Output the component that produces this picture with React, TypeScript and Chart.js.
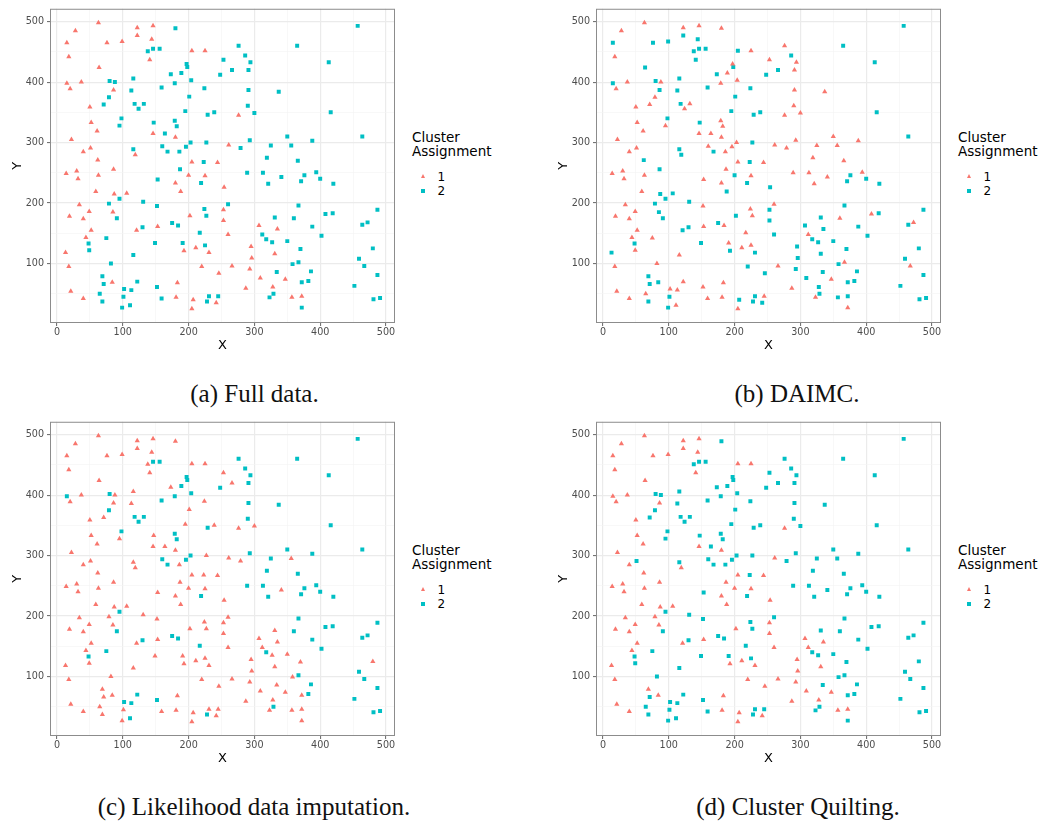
import React, { useEffect, useRef } from "react";
import { Chart, registerables } from "chart.js";

Chart.register(...registerables);

// ---- data (same 227 observations in every panel) ----
const pointX = [
  15, 28, 63, 18, 76, 99, 122, 146, 122, 144,
  141, 64, 15, 37, 20, 86, 50, 52, 61, 22,
  51, 40, 62, 86, 119, 146, 180, 205, 225, 261,
  205, 244, 14, 30, 63, 200, 225, 276, 32, 59,
  87, 106, 34, 19, 49, 40, 85, 52, 44, 13,
  18, 21, 40, 84, 121, 153, 180, 188, 202, 193,
  211, 231, 220, 246, 183, 181, 207, 205, 242, 254,
  253, 253, 260, 307, 335, 295, 296, 331, 266, 293,
  309, 347, 287, 328, 357, 372,
  180, 138, 146, 156, 197, 198, 173, 189, 179, 204,
  248, 253, 159, 224, 201, 80, 88, 116, 79, 71,
  113, 118, 124, 132, 98, 95, 147, 195, 179, 182,
  239, 229, 164, 196, 203, 227, 160, 168, 186, 116,
  223, 187, 457, 276, 365, 286, 294, 266, 291, 413,
  291, 337, 290, 300, 416, 350, 388, 464, 293, 325,
  356, 279, 319, 366, 289, 313, 341, 376, 371, 394,
  400, 420, 321, 260, 367, 331, 360, 408, 419, 487,
  388, 472, 464, 312, 318, 327, 350, 402, 370, 480,
  459, 467, 358, 367, 386, 334, 487, 372, 382, 452,
  329, 323, 245, 372, 481, 491, 79, 95, 131, 152,
  91, 153, 75, 48, 49, 130, 175, 184, 191, 217,
  224, 227, 219, 225, 116, 82, 69, 71, 65, 69,
  102, 113, 122, 101, 99, 111, 152, 159, 228, 231,
  149,
];

const pointY = [
  465, 485, 498, 442, 465, 467, 490, 493, 477, 471,
  437, 424, 398, 400, 389, 387, 359, 333, 319, 305,
  291, 285, 271, 256, 280, 315, 309, 452, 452, 296,
  268, 267, 249, 253, 246, 246, 245, 345, 240, 219,
  215, 216, 197, 178, 186, 174, 185, 155, 143, 118,
  95, 54, 42, 69, 155, 161, 233, 219, 179, 121,
  126, 118, 95, 84, 68, 44, 40, 25, 35, 226,
  189, 171, 148, 163, 157, 128, 109, 116, 96, 91,
  76, 74, 59, 61, 44, 46,
  489, 451, 455, 455, 430, 425, 413, 415, 398, 403,
  412, 437, 391, 390, 376, 402, 400, 406, 375, 363,
  386, 364, 356, 364, 340, 328, 333, 352, 336, 327,
  350, 346, 315, 293, 300, 300, 294, 285, 285, 289,
  268, 256, 493, 460, 460, 444, 433, 420, 420, 433,
  387, 384, 361, 349, 350, 310, 303, 310, 304, 295,
  295, 291, 275, 270, 250, 250, 243, 246, 236, 251,
  240, 232, 232, 198, 196, 176, 175, 182, 183, 189,
  161, 168, 164, 148, 140, 135, 137, 146, 124, 125,
  108, 96, 99, 102, 87, 86, 81, 69, 71, 63,
  50, 44, 46, 27, 41, 43, 199, 207, 202, 195,
  175, 239, 142, 133, 122, 160, 167, 163, 134, 151,
  190, 179, 233, 130, 114, 100, 79, 66, 50, 37,
  58, 56, 70, 45, 27, 31, 61, 42, 37, 46,
  134,
];

// cluster assignments per panel
const fullData = [
  1, 1, 1, 1, 1, 1, 1, 1, 1, 1,
  1, 1, 1, 1, 1, 1, 1, 1, 1, 1,
  1, 1, 1, 1, 1, 1, 1, 1, 1, 1,
  1, 1, 1, 1, 1, 1, 1, 1, 1, 1,
  1, 1, 1, 1, 1, 1, 1, 1, 1, 1,
  1, 1, 1, 1, 1, 1, 1, 1, 1, 1,
  1, 1, 1, 1, 1, 1, 1, 1, 1, 1,
  1, 1, 1, 1, 1, 1, 1, 1, 1, 1,
  1, 1, 1, 1, 1, 1,
  2, 2, 2, 2, 2, 2, 2, 2, 2, 2,
  2, 2, 2, 2, 2, 2, 2, 2, 2, 2,
  2, 2, 2, 2, 2, 2, 2, 2, 2, 2,
  2, 2, 2, 2, 2, 2, 2, 2, 2, 2,
  2, 2, 2, 2, 2, 2, 2, 2, 2, 2,
  2, 2, 2, 2, 2, 2, 2, 2, 2, 2,
  2, 2, 2, 2, 2, 2, 2, 2, 2, 2,
  2, 2, 2, 2, 2, 2, 2, 2, 2, 2,
  2, 2, 2, 2, 2, 2, 2, 2, 2, 2,
  2, 2, 2, 2, 2, 2, 2, 2, 2, 2,
  2, 2, 2, 2, 2, 2, 2, 2, 2, 2,
  2, 2, 2, 2, 2, 2, 2, 2, 2, 2,
  2, 2, 2, 2, 2, 2, 2, 2, 2, 2,
  2, 2, 2, 2, 2, 2, 2, 2, 2, 2,
  2,
];

const daimc = [
  2, 1, 1, 1, 2, 2, 1, 1, 2, 2,
  2, 2, 2, 1, 1, 2, 1, 1, 1, 1,
  1, 1, 2, 2, 2, 1, 1, 2, 1, 1,
  1, 1, 1, 1, 1, 2, 1, 1, 1, 1,
  2, 2, 1, 1, 1, 1, 2, 1, 1, 2,
  1, 1, 1, 2, 2, 1, 1, 2, 2, 2,
  1, 2, 2, 2, 1, 1, 2, 1, 2, 2,
  2, 2, 2, 2, 2, 2, 2, 2, 1, 2,
  2, 1, 1, 2, 2, 2,
  1, 2, 2, 2, 1, 2, 2, 1, 1, 1,
  2, 1, 2, 2, 2, 2, 1, 2, 1, 1,
  2, 2, 1, 1, 2, 1, 2, 2, 1, 1,
  2, 2, 1, 1, 1, 2, 1, 2, 1, 2,
  2, 1, 2, 1, 2, 2, 1, 2, 1, 2,
  1, 1, 1, 1, 2, 1, 1, 2, 1, 1,
  1, 1, 1, 1, 1, 1, 1, 2, 2, 1,
  2, 2, 1, 1, 2, 2, 1, 1, 2, 2,
  2, 1, 2, 1, 2, 2, 2, 2, 2, 2,
  2, 1, 2, 1, 2, 2, 2, 2, 2, 2,
  2, 1, 1, 1, 2, 2, 2, 2, 2, 1,
  2, 1, 1, 2, 1, 2, 2, 1, 1, 1,
  1, 1, 2, 1, 1, 1, 2, 2, 1, 2,
  1, 1, 1, 2, 2, 1, 1, 1, 2, 2,
  2,
];

const likelihood = [
  1, 1, 1, 1, 1, 1, 1, 1, 1, 1,
  1, 1, 2, 1, 1, 1, 1, 1, 1, 1,
  1, 1, 1, 1, 1, 1, 1, 1, 1, 1,
  1, 1, 1, 1, 1, 1, 1, 1, 1, 1,
  1, 1, 1, 1, 1, 1, 1, 1, 1, 1,
  1, 1, 1, 1, 1, 1, 1, 1, 1, 1,
  1, 1, 1, 1, 1, 1, 1, 1, 1, 1,
  1, 1, 1, 1, 1, 1, 1, 1, 1, 1,
  1, 1, 1, 1, 1, 1,
  1, 1, 2, 2, 2, 2, 1, 2, 2, 2,
  2, 1, 2, 1, 1, 2, 1, 1, 2, 1,
  1, 2, 2, 2, 2, 1, 1, 1, 2, 2,
  1, 2, 1, 2, 2, 1, 2, 2, 1, 1,
  1, 1, 2, 2, 2, 2, 2, 1, 2, 2,
  2, 2, 2, 1, 2, 2, 2, 2, 2, 2,
  1, 1, 2, 2, 2, 2, 1, 2, 2, 2,
  2, 2, 2, 1, 2, 1, 2, 2, 2, 2,
  2, 2, 2, 1, 2, 1, 1, 2, 1, 1,
  2, 2, 1, 2, 2, 1, 2, 1, 2, 2,
  2, 1, 1, 1, 2, 2, 1, 2, 1, 1,
  2, 1, 2, 2, 1, 2, 2, 2, 1, 2,
  1, 1, 2, 1, 1, 1, 1, 1, 1, 1,
  2, 2, 2, 1, 1, 2, 2, 1, 2, 1,
  1,
];

const quilting = [
  1, 1, 1, 1, 1, 1, 1, 1, 1, 1,
  1, 1, 1, 1, 1, 1, 1, 1, 1, 1,
  2, 1, 1, 1, 1, 1, 1, 1, 1, 1,
  1, 1, 1, 1, 1, 1, 1, 1, 1, 1,
  1, 1, 1, 1, 1, 1, 1, 1, 1, 1,
  1, 1, 1, 1, 1, 1, 1, 1, 1, 1,
  1, 1, 1, 1, 1, 1, 1, 1, 1, 1,
  1, 1, 1, 1, 1, 1, 1, 1, 1, 1,
  1, 1, 1, 1, 1, 1,
  2, 2, 2, 2, 2, 2, 2, 2, 2, 2,
  2, 2, 2, 2, 2, 2, 2, 2, 2, 2,
  2, 2, 2, 2, 2, 2, 2, 2, 2, 2,
  2, 2, 2, 2, 2, 2, 2, 2, 2, 2,
  2, 1, 2, 2, 2, 2, 2, 2, 2, 2,
  2, 2, 2, 2, 2, 2, 2, 2, 2, 2,
  2, 2, 2, 2, 2, 2, 2, 2, 2, 2,
  2, 2, 2, 2, 2, 2, 2, 2, 2, 2,
  2, 2, 2, 1, 2, 2, 2, 2, 2, 2,
  2, 2, 2, 2, 2, 2, 2, 2, 2, 2,
  2, 2, 2, 2, 2, 2, 1, 2, 2, 2,
  2, 2, 2, 2, 2, 2, 2, 2, 2, 2,
  2, 2, 2, 2, 2, 2, 1, 2, 2, 2,
  2, 2, 2, 2, 2, 2, 2, 2, 2, 2,
  2,
];

const xTicks = [0, 50, 100, 150, 200, 250, 300, 350, 400, 450, 500];
const yTicks = [50, 100, 150, 200, 250, 300, 350, 400, 450, 500];
const xLimits = [-10.6, 513.7];
const yLimits = [1.6, 521.3];
const clusterLabels = ["1", "2"];
const legendTitle = ["Cluster", "Assignment"];
const captions = [
  "(a) Full data.",
  "(b) DAIMC.",
  "(c) Likelihood data imputation.",
  "(d) Cluster Quilting.",
];

const RED = "#F8766D";
const CYAN = "#00BFC4";
const SANS = "'DejaVu Sans', sans-serif";

const framePlugin = {
  id: "frame",
  afterDraw(chart: any) {
    const { ctx, chartArea } = chart;
    const { left, top, right, bottom } = chartArea;
    ctx.save();
    ctx.strokeStyle = "#8c8c8c";
    ctx.lineWidth = 1;
    ctx.strokeRect(left + 0.5, top + 0.5, right - left - 1, bottom - top - 1);
    ctx.restore();
  },
};

const isMajor = (c: any) => c.tick && Math.round(c.tick.value) % 100 === 0;

function axisOptions(axis: "x" | "y") {
  const ticks = axis === "x" ? xTicks : yTicks;
  const lim = axis === "x" ? xLimits : yLimits;
  return {
    type: "linear",
    min: lim[0],
    max: lim[1],
    afterBuildTicks: (s: any) => {
      s.ticks = ticks.map((v) => ({ value: v }));
    },
    afterFit: (s: any) => {
      if (axis === "x") s.height = 37;
      else s.width = 50;
    },
    ticks: {
      autoSkip: false,
      maxRotation: 0,
      padding: axis === "x" ? 1 : 3,
      color: "#4d4d4d",
      font: { family: SANS, size: 9.6 },
      callback: (v: any) => (Math.round(v) % 100 === 0 ? String(v) : ""),
    },
    grid: {
      drawTicks: true,
      tickLength: 3,
      color: (c: any) => (isMajor(c) ? "#EBEBEB" : "#F4F4F4"),
      lineWidth: (c: any) => (isMajor(c) ? 1.2 : 0.6),
      tickColor: (c: any) => (isMajor(c) ? "#666666" : "rgba(0,0,0,0)"),
      tickWidth: 1,
    },
    border: { display: false },
    title: {
      display: true,
      text: axis === "x" ? "X" : "Y",
      color: "#000",
      font: { family: SANS, size: 13 },
      padding: axis === "x" ? { top: 0, bottom: 7 } : { top: 9.5, bottom: 0 },
    },
  };
}

function Panel({ assign, left, top }: { assign: number[]; left: number; top: number }) {
  const ref = useRef<HTMLCanvasElement | null>(null);
  useEffect(() => {
    const c1: { x: number; y: number }[] = [];
    const c2: { x: number; y: number }[] = [];
    for (let i = 0; i < pointX.length; i++) {
      (assign[i] === 1 ? c1 : c2).push({ x: pointX[i], y: pointY[i] });
    }
    const chart = new Chart(ref.current as HTMLCanvasElement, {
      type: "scatter",
      data: {
        datasets: [
          {
            label: clusterLabels[0],
            data: c1,
            pointStyle: "triangle",
            pointRadius: 3,
            pointBorderWidth: 0,
            borderWidth: 0,
            backgroundColor: RED,
            borderColor: RED,
          },
          {
            label: clusterLabels[1],
            data: c2,
            pointStyle: "rect",
            pointRadius: 2.8,
            pointBorderWidth: 0,
            borderWidth: 0,
            backgroundColor: CYAN,
            borderColor: CYAN,
          },
        ],
      },
      options: {
        responsive: false,
        animation: false,
        layout: { padding: { left: 0, right: 5, top: 6, bottom: 0 } },
        plugins: {
          legend: { display: false },
          tooltip: { enabled: false },
        },
        scales: {
          x: axisOptions("x") as any,
          y: axisOptions("y") as any,
        },
      },
      plugins: [framePlugin],
    });
    return () => chart.destroy();
  }, [assign]);
  return (
    <canvas
      ref={ref}
      width={400}
      height={360}
      style={{ position: "absolute", left, top, width: 400, height: 360 }}
    />
  );
}

function Legend({ left, top }: { left: number; top: number }) {
  return (
    <>
      <div
        style={{
          position: "absolute",
          left: left + 412,
          top: top + 130,
          fontFamily: SANS,
          fontSize: 13.5,
          lineHeight: "14px",
          color: "#000",
          whiteSpace: "nowrap",
        }}
      >
        {legendTitle[0]}
        <br />
        {legendTitle[1]}
      </div>
      <div
        style={{
          position: "absolute",
          left: left + 421,
          top: top + 174,
          width: 0,
          height: 0,
          borderLeft: "2.6px solid transparent",
          borderRight: "2.6px solid transparent",
          borderBottom: "4.5px solid " + RED,
        }}
      />
      <div
        style={{
          position: "absolute",
          left: left + 421,
          top: top + 188.5,
          width: 4,
          height: 4,
          background: CYAN,
        }}
      />
      <div
        style={{
          position: "absolute",
          left: left + 437.5,
          top: top + 171,
          fontFamily: SANS,
          fontSize: 12,
          lineHeight: "12px",
          color: "#000",
        }}
      >
        {clusterLabels[0]}
      </div>
      <div
        style={{
          position: "absolute",
          left: left + 437.5,
          top: top + 185,
          fontFamily: SANS,
          fontSize: 12,
          lineHeight: "12px",
          color: "#000",
        }}
      >
        {clusterLabels[1]}
      </div>
    </>
  );
}

function Caption({ text, cx, top }: { text: string; cx: number; top: number }) {
  return (
    <div
      style={{
        position: "absolute",
        left: cx - 250,
        top,
        width: 500,
        textAlign: "center",
        fontFamily: "'Liberation Serif', serif",
        fontSize: 25,
        lineHeight: "25px",
        color: "#111",
        whiteSpace: "nowrap",
      }}
    >
      {text}
    </div>
  );
}

export default function App() {
  const panels = [
    { assign: fullData, left: 0, top: 0, cx: 254.5 },
    { assign: daimc, left: 546, top: 0, cx: 797 },
    { assign: likelihood, left: 0, top: 413, cx: 254 },
    { assign: quilting, left: 546, top: 413, cx: 798 },
  ];
  return (
    <div
      style={{
        position: "absolute",
        left: 0,
        top: 0,
        width: 1044,
        height: 821,
        background: "#fff",
        overflow: "hidden",
      }}
    >
      {panels.map((p, i) => (
        <React.Fragment key={i}>
          <Panel assign={p.assign} left={p.left} top={p.top} />
          <Legend left={p.left} top={p.top} />
          <Caption text={captions[i]} cx={p.cx} top={p.top + 380.5} />
        </React.Fragment>
      ))}
    </div>
  );
}
